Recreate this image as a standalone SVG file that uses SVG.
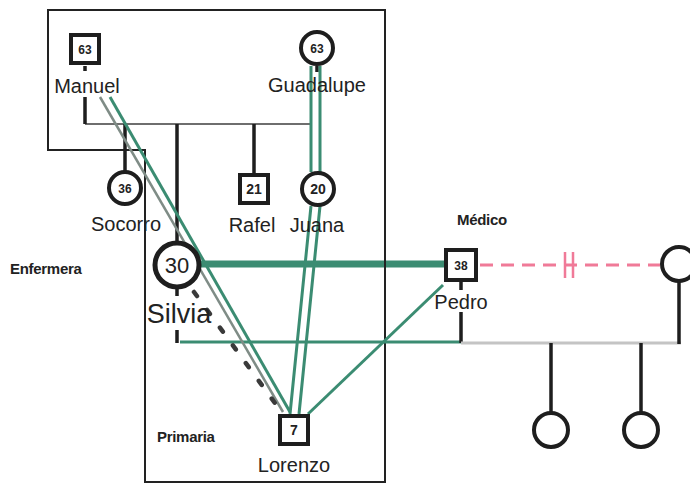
<svg xmlns="http://www.w3.org/2000/svg" width="690" height="485" viewBox="0 0 690 485">
  <style>
    .frame { fill: none; stroke: #222; stroke-width: 2; }
    .kin { stroke: #1e1e1e; stroke-width: 3.5; fill: none; }
    .couple { stroke: #6e6e6e; stroke-width: 2; fill: none; }
    .pale { stroke: #c4c4c4; stroke-width: 3; fill: none; }
    .rel { stroke: #3b8c72; stroke-width: 3; fill: none; }
    .relgray { stroke: #7f8c86; stroke-width: 2.5; fill: none; }
    .band { stroke: #3b8c72; stroke-width: 7; fill: none; }
    .distant { stroke: #3a3a3a; stroke-width: 4.5; stroke-dasharray: 5 17; stroke-linecap: round; fill: none; }
    .divorced { stroke: #f07a98; stroke-width: 3; stroke-dasharray: 13 8; fill: none; }
    .mark { stroke: #f07a98; stroke-width: 2.5; }
    .node rect, .node circle { fill: #fff; stroke: #1e1e1e; stroke-width: 4; }
    .lbl { font-family: "Liberation Sans", Arial, sans-serif; font-size: 20px; fill: #222; text-anchor: middle; }
    .age { font-family: "Liberation Sans", Arial, sans-serif; font-size: 12px; font-weight: bold; fill: #222; text-anchor: middle; }
    .role { font-family: "Liberation Sans", Arial, sans-serif; font-size: 15px; font-weight: bold; fill: #222; letter-spacing: -0.3px; }
  </style>
  <rect width="690" height="485" fill="#fff"/>

  <!-- household / context frames -->
  <path class="frame" d="M48 10 H385 V482 H145 V150 H48 Z"/>

  <!-- connectors -->
  <g id="connectors">
    <!-- parents' couple line and children -->
    <path class="couple" d="M85 124 H312"/>
    <path class="kin" d="M85 66 V71 M85 97 V124"/>
    <path class="kin" d="M317 66 V72"/>
    <path class="kin" d="M125 124 V171"/>
    <path class="kin" d="M177 124 V242"/>
    <path class="kin" d="M254 124 V174"/>
    <!-- Silvia and Pedro -->
    <path class="kin" d="M177 288 V296 M177 330 V343"/>
    <path class="rel" d="M180 342 H461"/>
    <path class="kin" d="M461 282 V290 M461 312 V343"/>
    <!-- Pedro's second union and children -->
    <path class="pale" d="M461 343 H681"/>
    <path class="kin" d="M679 281 V344"/>
    <path class="kin" d="M551 343 V412"/>
    <path class="kin" d="M641 343 V412"/>
    <path class="divorced" d="M480 265 H660"/>
    <path class="mark" d="M565 252 V278 M573 252 V278"/>

    <!-- emotional relationships -->
    <path class="relgray" d="M100 97 L283 412"/>
    <path class="rel" d="M110 97 L290 412"/>
    <path class="distant" d="M194 292 L280 410"/>
    <path class="rel" d="M311 66 V172 M320 66 V172"/>
    <path class="rel" d="M311 206 L290 414 M320 206 L299 414"/>
    <path class="rel" d="M443 285 L308 414"/>
    <path class="band" d="M199 264 H446"/>
  </g>

  <!-- frame line drawn across the band -->
  <path class="frame" d="M385 240 V290"/>

  <!-- role labels -->
  <text class="role" x="10" y="274">Enfermera</text>
  <text class="role" x="457" y="225">Médico</text>
  <text class="role" x="157" y="442">Primaria</text>

  <!-- people -->
  <g id="manuel" class="node">
    <rect x="71" y="35" width="28" height="28"/>
    <text class="age" x="85" y="53.5">63</text>
    <text class="lbl" x="87" y="93">Manuel</text>
  </g>
  <g id="guadalupe" class="node">
    <circle cx="317" cy="48" r="16"/>
    <text class="age" x="317" y="52.5">63</text>
    <text class="lbl" x="317" y="92">Guadalupe</text>
  </g>
  <g id="socorro" class="node">
    <circle cx="125" cy="188" r="16"/>
    <text class="age" x="125" y="192.5">36</text>
    <text class="lbl" x="126" y="231">Socorro</text>
  </g>
  <g id="rafel" class="node">
    <rect x="240" y="175" width="28" height="28"/>
    <text class="age" x="254" y="194" style="font-size:14px">21</text>
    <text class="lbl" x="252" y="232">Rafel</text>
  </g>
  <g id="juana" class="node">
    <circle cx="318" cy="189" r="16"/>
    <text class="age" x="318" y="194" style="font-size:14px">20</text>
    <text class="lbl" x="317" y="232">Juana</text>
  </g>
  <g id="silvia" class="node">
    <circle cx="177" cy="265" r="22" style="stroke-width:5"/>
    <text class="age" x="177" y="273" style="font-size:22px;font-weight:normal">30</text>
    <text class="lbl" x="179" y="323" style="font-size:27px">Silvia</text>
  </g>
  <g id="pedro" class="node">
    <rect x="446" y="250" width="30" height="30"/>
    <text class="age" x="461" y="270">38</text>
    <text class="lbl" x="461" y="309">Pedro</text>
  </g>
  <g id="lorenzo" class="node">
    <rect x="280" y="416" width="28" height="28"/>
    <text class="age" x="294" y="435" style="font-size:14px">7</text>
    <text class="lbl" x="294" y="472">Lorenzo</text>
  </g>
  <g id="pedro-partner" class="node">
    <circle cx="679" cy="264" r="17"/>
  </g>
  <g id="child-1" class="node">
    <circle cx="551" cy="430" r="17"/>
  </g>
  <g id="child-2" class="node">
    <circle cx="641" cy="430" r="17"/>
  </g>
</svg>
